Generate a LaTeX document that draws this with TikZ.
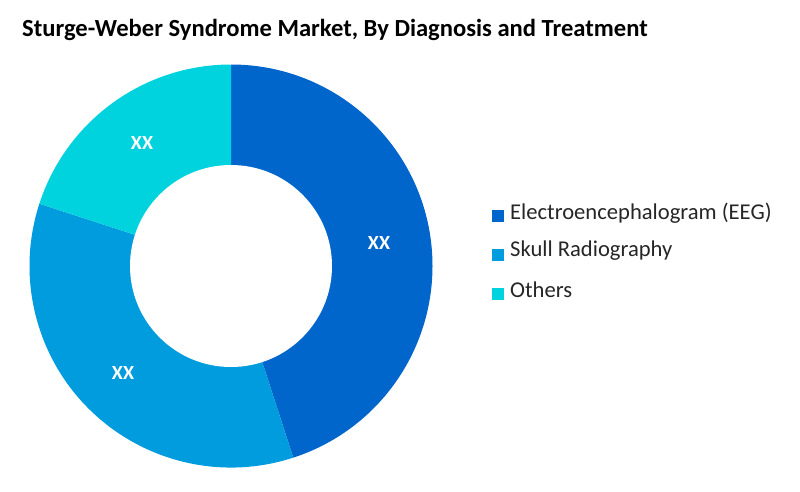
\documentclass[tikz,border=0pt]{standalone}
\usepackage{fontspec}
\setmainfont{Carlito}
\usetikzlibrary{calc}
\definecolor{eegc}{HTML}{0066CC}
\definecolor{skullc}{HTML}{009CDE}
\definecolor{othc}{HTML}{00D3DE}
\tikzset{
  slicelbl/.style={text=white,font=\bfseries\fontsize{20}{22}\selectfont,inner sep=0pt},
  legsq/.style={minimum size=12pt,inner sep=0pt},
  legtxt/.style={anchor=west,inner sep=0pt,font=\fontsize{22.6}{26}\selectfont,text=black!85},
}
\begin{document}
\begin{tikzpicture}[x=1pt,y=1pt]
\useasboundingbox (0,0) rectangle (800,-491);
\fill[white] (0,0) rectangle (800,-491);
\coordinate (c) at (231,-266);
\node[anchor=west,inner sep=0pt,font=\bfseries\fontsize{24.6}{28}\selectfont] (title) at (22,-30) {Sturge-Weber Syndrome Market, By Diagnosis and Treatment};
% slices
\fill[eegc] (c) -- ++(90:201.5) arc[start angle=90,end angle=-72,radius=201.5] -- cycle;
\fill[skullc] (c) -- ++(-72:201.5) arc[start angle=-72,end angle=-198,radius=201.5] -- cycle;
\fill[othc] (c) -- ++(162:201.5) arc[start angle=162,end angle=90,radius=201.5] -- cycle;
\fill[white] (c) circle[radius=101];
% labels
\node[slicelbl] (l1) at (379,-243) {XX};
\node[slicelbl] (l2) at (123,-373) {XX};
\node[slicelbl] (l3) at (142,-143) {XX};
% legend
\node[legsq,fill=eegc] (s1) at (498,-216) {};
\node[legtxt] (t1) at (510,-213) {Electroencephalogram (EEG)};
\node[legsq,fill=skullc] (s2) at (498,-255) {};
\node[legtxt] (t2) at (510,-251) {Skull Radiography};
\node[legsq,fill=othc] (s3) at (498,-294) {};
\node[legtxt] (t3) at (510,-290) {Others};
\end{tikzpicture}
\end{document}
